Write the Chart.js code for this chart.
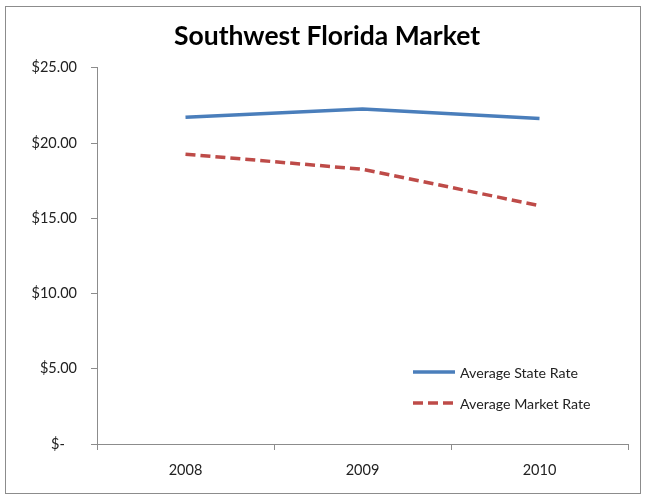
<!DOCTYPE html>
<html>
<head>
<meta charset="utf-8">
<script src="https://cdn.jsdelivr.net/npm/chart.js@4/dist/chart.umd.min.js"></script>
<style>
  html, body { margin: 0; padding: 0; background: #fff; }
  #wrap { position: relative; width: 646px; height: 498px; }
  #frame { position: absolute; left: 5px; top: 6px; width: 634px; height: 486px; border: 1px solid #8c8c8c; pointer-events: none; }
</style>
</head>
<body>
<div id="wrap">
  <canvas id="mercadoChart" width="646" height="498"></canvas>
  <div id="frame"></div>
</div>
<script>
// dados
const anos = ['2008', '2009', '2010'];
const taxaEstadual = [21.72, 22.27, 21.63];
const taxaMercado = [19.26, 18.26, 15.84];
const rotulosY = [0, 5, 10, 15, 20, 25];

const fonte = 'Lato, "Open Sans", sans-serif';

// legenda desenhada dentro da área do gráfico
const legendaInterna = {
  id: 'legendaInterna',
  afterDraw(chart) {
    const ctx = chart.ctx;
    const x0 = 413, x1 = 455;
    const linhas = [372, 403];
    chart.data.datasets.forEach((ds, i) => {
      const y = linhas[i];
      ctx.save();
      ctx.strokeStyle = ds.borderColor;
      ctx.lineWidth = ds.borderWidth;
      ctx.setLineDash(ds.borderDash || []);
      ctx.beginPath();
      ctx.moveTo(x0, y);
      ctx.lineTo(x1, y);
      ctx.stroke();
      ctx.setLineDash([]);
      ctx.fillStyle = '#222';
      ctx.font = '14.2px ' + fonte;
      ctx.textBaseline = 'middle';
      ctx.fillText(ds.label, 460, y + 1);
      ctx.restore();
    });
  }
};

const ctx = document.getElementById('mercadoChart').getContext('2d');
new Chart(ctx, {
  type: 'line',
  data: {
    labels: anos,
    datasets: [
      {
        label: 'Average State Rate',
        data: taxaEstadual,
        borderColor: '#4a7ebb',
        borderWidth: 3.5,
        pointRadius: 0,
        tension: 0
      },
      {
        label: 'Average Market Rate',
        data: taxaMercado,
        borderColor: '#be4b48',
        borderWidth: 3.5,
        borderDash: [10, 5],
        pointRadius: 0,
        tension: 0
      }
    ]
  },
  options: {
    responsive: false,
    animation: false,
    layout: { padding: { top: 21, right: 18, left: 26, bottom: 0 } },
    plugins: {
      legend: { display: false },
      tooltip: { enabled: false },
      title: {
        display: true,
        text: 'Southwest Florida Market',
        color: '#000',
        font: { family: fonte, size: 26.5, weight: 'bold' },
        padding: { top: 0, bottom: 15 }
      }
    },
    scales: {
      x: {
        offset: true,
        grid: { drawOnChartArea: false, offset: true, tickLength: 6, color: '#8c8c8c' },
        border: { color: '#8c8c8c', width: 1 },
        ticks: { color: '#222', font: { family: fonte, size: 14.5 }, padding: 12 },
        afterFit(scale) { scale.height = 54; }
      },
      y: {
        min: 0,
        max: 25,
        afterBuildTicks(scale) {
          scale.ticks = rotulosY.map(v => ({ value: v }));
        },
        grid: { drawOnChartArea: false, tickLength: 6, color: '#8c8c8c' },
        border: { color: '#8c8c8c', width: 1 },
        ticks: {
          color: '#222',
          font: { family: fonte, size: 14.5 },
          padding: 14,
          callback: v => v === 0 ? '$-\u2007 ' : '$' + v.toFixed(2)
        },
        afterFit(scale) { scale.width = 71; }
      }
    }
  },
  plugins: [legendaInterna]
});
</script>
</body>
</html>
